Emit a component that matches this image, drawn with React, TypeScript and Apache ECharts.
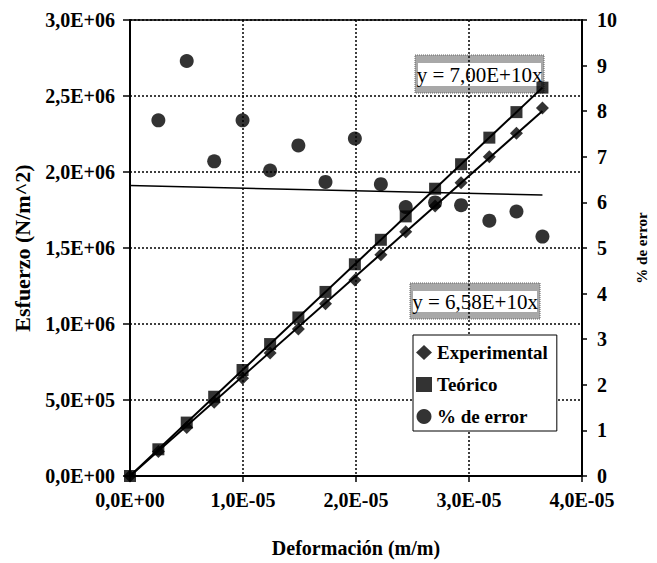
import React, { useEffect, useRef } from "react";
import * as echarts from "echarts";

// Deformación (m/m)
const strain = [0, 2.51e-6, 5.02e-6, 7.45e-6, 9.96e-6, 12.4e-6, 14.9e-6, 17.3e-6, 19.9e-6, 22.2e-6, 24.4e-6, 27.0e-6, 29.3e-6, 31.8e-6, 34.2e-6, 36.5e-6];
// Esfuerzo experimental (N/m^2)
const experimental = [0, 1.62e5, 3.19e5, 4.86e5, 6.43e5, 8.1e5, 9.67e5, 1.133e6, 1.29e6, 1.455e6, 1.607e6, 1.777e6, 1.929e6, 2.101e6, 2.255e6, 2.421e6];
// Esfuerzo teórico (N/m^2)
const teorico = [0, 1.757e5, 3.514e5, 5.215e5, 6.972e5, 8.68e5, 1.043e6, 1.211e6, 1.393e6, 1.554e6, 1.708e6, 1.89e6, 2.051e6, 2.226e6, 2.394e6, 2.555e6];
// % de error (from the second point on)
const errorPct = [7.8, 9.1, 6.9, 7.8, 6.7, 7.25, 6.45, 7.4, 6.4, 5.9, 6.0, 5.94, 5.6, 5.8, 5.25];

// trend lines
const trendTeo = [[0, 0], [36.5e-6, 2.555e6]];
const trendExp = [[0, 0], [36.5e-6, 2.4017e6]];
const trendErr = [[0, 6.37], [36.5e-6, 6.16]];

const eqTeo = "y = 7,00E+10x";
const eqExp = "y = 6,58E+10x";

const FONT = "Liberation Serif";

function fmtSci(v: number, digitsExp: number) {
  if (v === 0) return "0,0E+00";
  const e = Math.floor(Math.log10(Math.abs(v)) + 1e-9);
  const m = v / Math.pow(10, e);
  const sign = e < 0 ? "-" : "+";
  const ee = String(Math.abs(e)).padStart(digitsExp, "0");
  return m.toFixed(1).replace(".", ",") + "E" + sign + ee;
}

function eqBox(x: number, y: number, w: number, h: number, text: string) {
  return {
    type: "group",
    x,
    y,
    children: [
      { type: "rect", shape: { x: 0, y: 0, width: w, height: h }, style: { fill: "#a8a8a8", stroke: "#666", lineWidth: 1, lineDash: [1, 1] } },
      { type: "rect", shape: { x: 3, y: 8, width: w - 6, height: h - 15 }, style: { fill: "#fff" } },
      {
        type: "text",
        x: w / 2,
        y: h / 2 + 0.5,
        style: { text, fill: "#000", fontFamily: FONT, fontSize: 21, align: "center", verticalAlign: "middle" },
      },
    ],
  };
}

export default function App() {
  const ref = useRef<HTMLDivElement>(null);
  useEffect(() => {
    if (!ref.current) return;
    const chart = echarts.init(ref.current, null, { renderer: "svg" });
    const axisLabel = { color: "#000", fontFamily: FONT, fontWeight: "bold", fontSize: 20 } as any;
    chart.setOption({
      animation: false,
      backgroundColor: "#fff",
      textStyle: { fontFamily: FONT },
      grid: { left: 130, top: 20, right: 65, bottom: 80, show: true, borderColor: "#000", borderWidth: 1.5, backgroundColor: "transparent" },
      legend: {
        orient: "vertical",
        left: 413,
        top: 335,
        padding: [8, 9, 5, 3],
        itemGap: 13,
        itemWidth: 16,
        itemHeight: 15,
        backgroundColor: "#fff",
        borderColor: "#000",
        borderWidth: 1,
        textStyle: { color: "#000", fontFamily: FONT, fontWeight: "bold", fontSize: 19 },
        data: ["Experimental", "Teórico", "% de error"],
      },
      xAxis: {
        type: "value",
        min: 0,
        max: 4e-5,
        interval: 1e-5,
        name: "Deformación (m/m)",
        nameLocation: "middle",
        nameGap: 62,
        nameTextStyle: { color: "#000", fontFamily: FONT, fontWeight: "bold", fontSize: 20 },
        axisLine: { show: true, onZero: false, lineStyle: { color: "#000", width: 2 } },
        axisTick: { show: true, length: 6, lineStyle: { color: "#000", width: 1.5 } },
        axisLabel: { ...axisLabel, margin: 14, formatter: (v: number) => fmtSci(v, 2) },
        splitLine: { show: true, lineStyle: { color: "#000", type: [2, 2], width: 1.5 } },
      },
      yAxis: [
        {
          type: "value",
          min: 0,
          max: 3e6,
          interval: 5e5,
          name: "Esfuerzo (N/m^2)",
          nameLocation: "middle",
          nameGap: 97,
          nameRotate: 90,
          nameTextStyle: { color: "#000", fontFamily: FONT, fontWeight: "bold", fontSize: 22 },
          axisLine: { show: true, onZero: false, lineStyle: { color: "#000", width: 2 } },
          axisTick: { show: true, length: 7, lineStyle: { color: "#000", width: 1.5 } },
          axisLabel: { ...axisLabel, margin: 15, formatter: (v: number) => fmtSci(v, 2) },
          splitLine: { show: true, lineStyle: { color: "#000", type: [2, 2], width: 1.5 } },
        },
        {
          type: "value",
          min: 0,
          max: 10,
          interval: 1,
          position: "right",
          name: "% de error",
          nameLocation: "middle",
          nameGap: 52,
          nameRotate: 90,
          nameTextStyle: { color: "#000", fontFamily: FONT, fontWeight: "bold", fontSize: 15 },
          axisLine: { show: true, onZero: false, lineStyle: { color: "#000", width: 2 } },
          axisTick: { show: true, length: 5, lineStyle: { color: "#000", width: 1.5 } },
          axisLabel: { ...axisLabel, margin: 15 },
          splitLine: { show: false },
        },
      ],
      series: [
        {
          type: "line",
          data: trendTeo,
          symbol: "none",
          lineStyle: { color: "#000", width: 2 },
          silent: true,
          z: 2,
        },
        {
          type: "line",
          data: trendExp,
          symbol: "none",
          lineStyle: { color: "#000", width: 2 },
          silent: true,
          z: 2,
        },
        {
          type: "line",
          yAxisIndex: 1,
          data: trendErr,
          symbol: "none",
          lineStyle: { color: "#000", width: 1.5 },
          silent: true,
          z: 2,
        },
        {
          name: "Experimental",
          type: "scatter",
          symbol: "diamond",
          symbolSize: 13,
          itemStyle: { color: "#000" },
          data: strain.map((x, i) => [x, experimental[i]]),
          z: 3,
        },
        {
          name: "Teórico",
          type: "scatter",
          symbol: "rect",
          symbolSize: 12,
          itemStyle: { color: "#000" },
          data: strain.map((x, i) => [x, teorico[i]]),
          z: 3,
        },
        {
          name: "% de error",
          type: "scatter",
          symbol: "circle",
          symbolSize: 14,
          yAxisIndex: 1,
          itemStyle: { color: "#000" },
          data: errorPct.map((v, i) => [strain[i + 1], v]),
          z: 3,
        },
      ],
      graphic: [eqBox(415, 55, 129, 38, eqTeo), eqBox(410, 283, 130, 36, eqExp)],
    });
    return () => chart.dispose();
  }, []);
  return <div ref={ref} style={{ position: "fixed", left: 0, top: 0, width: 657, height: 563 }} />;
}
